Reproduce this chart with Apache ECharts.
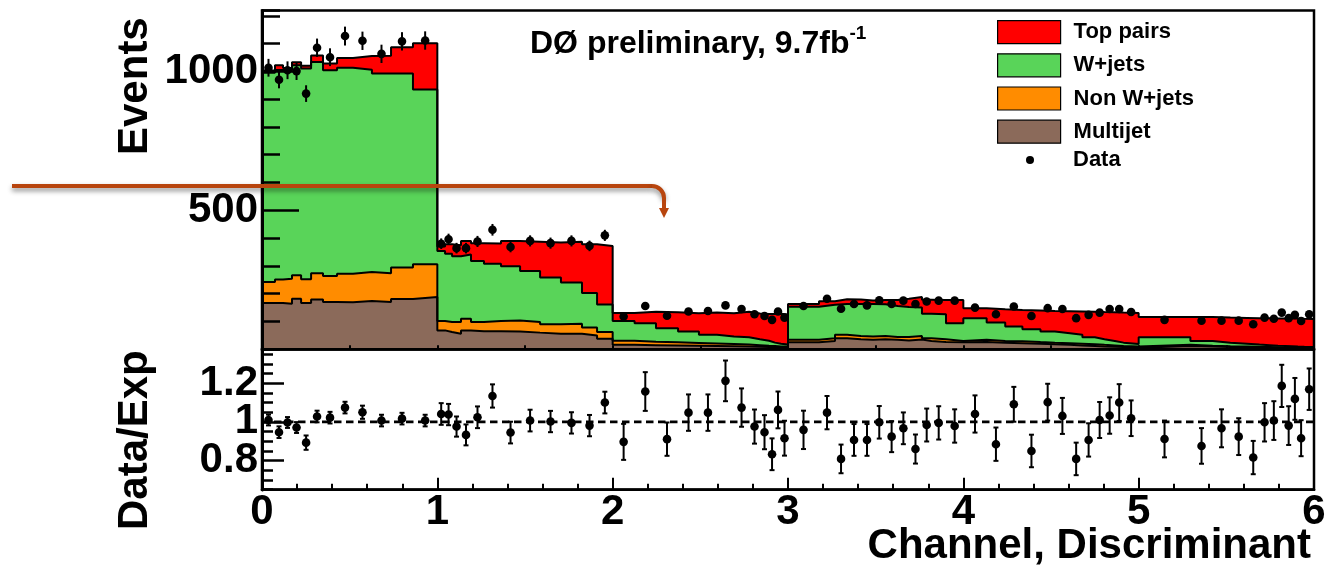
<!DOCTYPE html>
<html><head><meta charset="utf-8">
<script src="https://cdn.jsdelivr.net/npm/echarts@6/dist/echarts.min.js"></script>
<style>html,body{margin:0;padding:0;background:#fff}#c{width:1330px;height:568px}</style>
</head><body><div id="c"></div>
<script>
// ---- DATA ----
const binEdges = [
  0, 0.074, 0.120, 0.171, 0.223, 0.280, 0.348, 0.428, 0.519, 0.627, 0.736, 0.861,
  1, 1.044, 1.084, 1.135, 1.192, 1.266, 1.363, 1.472, 1.586, 1.705, 1.825, 1.911,
  2, 2.125, 2.247, 2.373, 2.492, 2.595, 2.692, 2.778, 2.840, 2.892, 2.926, 2.960,
  3, 3.177, 3.268, 3.337, 3.416, 3.485, 3.556, 3.626, 3.690, 3.764, 3.818, 3.901,
  4, 4.133, 4.239, 4.337, 4.440, 4.522, 4.608, 4.679, 4.750, 4.805, 4.864, 4.914,
  5, 5.295, 5.422, 5.523, 5.618, 5.689, 5.747, 5.795, 5.837, 5.874, 5.908, 5.945, 6
];
const multijet = [
  167, 167, 164, 182, 167, 179, 170, 169, 174, 170, 181, 188,
  68, 62, 56, 68, 65, 65, 64, 60, 56, 56, 50, 38,
  16, 15, 14, 13, 12, 11, 10, 9, 8, 7, 6, 6,
  25, 30, 40, 36, 34, 36, 34, 32, 35, 30, 26, 25,
  26, 24, 22, 20, 18, 16, 14, 12, 10, 9, 8, 6,
  12, 10, 8, 7, 6, 5, 5, 4, 4, 3, 3, 3
];
const nonWjets = [
  75, 84, 90, 84, 85, 95, 94, 103, 104, 104, 113, 118,
  34, 36, 42, 42, 33, 37, 40, 38, 34, 36, 28, 24,
  15, 12, 11, 10, 9, 8, 7, 6, 5, 5, 4, 4,
  9, 10, 12, 12, 12, 12, 10, 12, 13, 10, 10, 5,
  8, 6, 7, 6, 6, 6, 6, 6, 6, 5, 4, 4,
  4, 3, 3, 3, 3, 3, 2, 2, 2, 2, 2, 1
];
const wJets = [
  753, 754, 751, 756, 758, 760, 740, 741, 728, 718, 698, 629,
  252, 246, 237, 231, 220, 206, 195, 184, 168, 148, 125, 99,
  71, 67, 51, 41, 31, 27, 26, 21, 18, 12, 10, 7,
  119, 120, 111, 115, 117, 114, 112, 108, 102, 88, 90, 64,
  78, 66, 53, 46, 40, 36, 32, 25, 20, 16, 12, 9,
  27, 17, 13, 10, 8, 7, 6, 6, 5, 5, 4, 4
];
const topPairs = [
  8, 17, 7, 11, 10, 23, 24, 35, 49, 64, 95, 166,
  16, 34, 39, 49, 64, 73, 91, 105, 126, 147, 175, 211,
  29, 41, 57, 66, 80, 84, 92, 93, 96, 103, 108, 108,
  10, 13, 17, 16, 13, 15, 21, 30, 38, 50, 51, 83,
  36, 48, 59, 68, 74, 79, 84, 92, 98, 103, 108, 112,
  73, 86, 90, 93, 95, 97, 98, 99, 100, 101, 101, 101
];
const dataCounts = [
  1013, 970, 1004, 1001, 920, 1085, 1051, 1127, 1110, 1063, 1108, 1111,
  380, 396, 364, 364, 388, 430, 368, 390, 382, 390, 372, 410,
  118, 156, 121, 136, 138, 158, 145, 126, 120, 106, 136, 114,
  156, 182, 146, 163, 158, 176, 163, 175, 163, 172, 175, 175,
  150, 126, 154, 120, 148, 145, 112, 124, 132, 145, 145, 134,
  106, 103, 103, 103, 90, 114, 110, 132, 112, 124, 102, 126
];
const dataErrors = [
  32, 31, 32, 32, 30, 33, 32, 34, 33, 33, 33, 33,
  19, 20, 19, 19, 20, 21, 19, 20, 20, 20, 19, 20,
  11, 12, 11, 12, 12, 13, 12, 11, 11, 10, 12, 11,
  12, 13, 12, 13, 13, 13, 13, 13, 13, 13, 13, 13,
  12, 11, 12, 11, 12, 12, 11, 11, 11, 12, 12, 12,
  10, 10, 10, 10, 9, 11, 10, 11, 11, 11, 10, 11
];
const ratioValues = [
  1.010, 0.947, 0.997, 0.971, 0.893, 1.028, 1.022, 1.074, 1.050, 1.007, 1.017, 1.007,
  1.041, 1.038, 0.976, 0.933, 1.024, 1.134, 0.945, 1.007, 1.002, 0.995, 0.981, 1.100,
  0.897, 1.157, 0.911, 1.048, 1.048, 1.212, 1.074, 0.976, 0.947, 0.833, 1.062, 0.916,
  0.959, 1.048, 0.809, 0.907, 0.907, 0.998, 0.924, 0.967, 0.860, 0.984, 0.995, 0.979,
  1.041, 0.885, 1.091, 0.850, 1.102, 1.031, 0.809, 0.907, 1.010, 1.033, 1.100, 1.019,
  0.912, 0.876, 0.967, 0.924, 0.816, 0.998, 1.007, 1.186, 0.981, 1.119, 0.916, 1.169
];
const ratioErrors = [
  0.028, 0.030, 0.028, 0.028, 0.037, 0.030, 0.030, 0.030, 0.034, 0.030, 0.030, 0.030,
  0.056, 0.055, 0.052, 0.054, 0.056, 0.060, 0.056, 0.056, 0.055, 0.055, 0.055, 0.056,
  0.093, 0.100, 0.086, 0.094, 0.094, 0.105, 0.099, 0.088, 0.088, 0.082, 0.095, 0.090,
  0.099, 0.086, 0.074, 0.082, 0.082, 0.084, 0.080, 0.082, 0.075, 0.085, 0.086, 0.086,
  0.096, 0.086, 0.090, 0.084, 0.095, 0.093, 0.084, 0.086, 0.093, 0.094, 0.095, 0.092,
  0.095, 0.092, 0.098, 0.095, 0.086, 0.099, 0.100, 0.109, 0.100, 0.108, 0.093, 0.107
];
const xTickLabels = [0, 1, 2, 3, 4, 5, 6];
const eventsTickLabels = [500, 1000];
const ratioTickLabels = [0.8, 1, 1.2];
const legendNames = ['Top pairs', 'W+jets', 'Non W+jets', 'Multijet', 'Data'];

// ---- BUILD ----
const FONT = '"Liberation Sans", Arial, Helvetica, sans-serif';
const COLORS = { top: '#ff0000', w: '#59d459', nonw: '#ff8c00', mj: '#8b6a5a' };
const nb = multijet.length;
const cumMJ = multijet.slice();
const cumNonW = cumMJ.map((v, i) => v + nonWjets[i]);
const cumW = cumNonW.map((v, i) => v + wJets[i]);
const cumTop = cumW.map((v, i) => v + topPairs[i]);
const centers = binEdges.slice(0, nb).map((e, i) => (e + binEdges[i + 1]) / 2);
function stepData(vals) {
  const d = vals.map((v, i) => [binEdges[i], v]);
  d.push([binEdges[nb], vals[nb - 1]]);
  return d;
}
function histSeries(name, vals, color) {
  return {
    name, type: 'line', xAxisIndex: 0, yAxisIndex: 0, step: 'end', data: stepData(vals),
    showSymbol: false, symbol: 'none', silent: true,
    itemStyle: { color },
    lineStyle: { color: '#000', width: 2 },
    areaStyle: { color, opacity: 1 }
  };
}
const dataPts = centers.map((c, i) => [c, dataCounts[i], dataErrors[i]]);
const ratioPts = centers.map((c, i) => [c, ratioValues[i], ratioErrors[i]]);

const GRID_L = 262, GRID_W = 1052;
const TOP_T = 10.5, TOP_B = 349.3, BOT_B = 489.7;
const R_MIN = 0.65, R_MAX = 1.375;

const chart = echarts.init(document.getElementById('c'), null, { renderer: 'canvas' });
const axisLabelStyle = { color: '#000', fontFamily: FONT, fontWeight: 'bold', fontSize: 42 };
const fmt = v => String(Math.round(v * 1000) / 1000);

// one left axis per ratio tick label so that no label is auto-hidden
const ratioLabelAxes = ratioTickLabels.map(v => ({
  type: 'value', gridIndex: 1, position: 'left', offset: 0, min: R_MIN, max: R_MAX,
  axisLine: { show: true, lineStyle: { color: '#000', width: 3 } },
  axisTick: { show: true, inside: true, length: 22, lineStyle: { color: '#000', width: 2.5 }, customValues: [v] },
  axisLabel: { show: true, margin: 4, ...axisLabelStyle, customValues: [v], formatter: fmt },
  splitLine: { show: false }, z: 10
}));

chart.setOption({
  animation: false,
  backgroundColor: '#fff',
  grid: [
    { left: GRID_L, width: GRID_W, top: TOP_T, height: TOP_B - TOP_T, show: true, borderColor: '#000', borderWidth: 2.5, backgroundColor: 'transparent', z: 10 },
    { left: GRID_L, width: GRID_W, top: TOP_B, height: BOT_B - TOP_B, show: true, borderColor: '#000', borderWidth: 2.5, backgroundColor: 'transparent', z: 10 }
  ],
  xAxis: [
    { type: 'value', gridIndex: 0, min: 0, max: 6, interval: 0.5, axisLine: { show: true, lineStyle: { color: '#000', width: 2.5 } },
      axisTick: { show: true, inside: true, length: 4, lineStyle: { color: '#000', width: 2 } }, axisLabel: { show: false }, splitLine: { show: false }, z: 10 },
    { type: 'value', gridIndex: 1, min: 0, max: 6, interval: 1, axisLine: { show: true, lineStyle: { color: '#000', width: 2.5 } },
      axisTick: { show: true, inside: true, length: 12, lineStyle: { color: '#000', width: 2 } },
      minorTick: { show: true, splitNumber: 5, length: 6, lineStyle: { color: '#000', width: 2 } },
      axisLabel: { show: true, margin: 2, ...axisLabelStyle, customValues: xTickLabels, formatter: fmt },
      splitLine: { show: false }, z: 10 }
  ],
  yAxis: [
    { type: 'value', gridIndex: 0, position: 'left', min: 0, max: 1219, axisLine: { show: true, lineStyle: { color: '#000', width: 3 } },
      axisTick: { show: true, inside: true, length: 37, lineStyle: { color: '#000', width: 2.5 }, customValues: eventsTickLabels },
      axisLabel: { show: true, margin: 4, ...axisLabelStyle, customValues: eventsTickLabels, formatter: fmt },
      splitLine: { show: false }, z: 10 },
    { type: 'value', gridIndex: 0, position: 'left', offset: 0, min: 0, max: 1219, interval: 100, axisLine: { show: false },
      axisTick: { show: true, inside: true, length: 18, lineStyle: { color: '#000', width: 2.5 } },
      axisLabel: { show: false }, splitLine: { show: false }, z: 10 },
    ratioLabelAxes[1],
    { type: 'value', gridIndex: 1, position: 'left', offset: 0, min: R_MIN, max: R_MAX, interval: 0.05, axisLine: { show: false },
      axisTick: { show: true, inside: true, length: 11, lineStyle: { color: '#000', width: 2.5 } },
      axisLabel: { show: false }, splitLine: { show: false }, z: 10 },
    ratioLabelAxes[0],
    ratioLabelAxes[2]
  ],
  legend: [
    { data: legendNames.slice(0, 4).map((n, i) => ({ name: n, itemStyle: { color: [COLORS.top, COLORS.w, COLORS.nonw, COLORS.mj][i], borderColor: '#000', borderWidth: 1.2 } })),
      orient: 'vertical', left: 992, top: 15, itemWidth: 63, itemHeight: 23, itemGap: 9, icon: 'rect',
      selectedMode: false, textStyle: { color: '#000', fontFamily: FONT, fontWeight: 'bold', fontSize: 22, padding: [0, 0, 0, 8] } },
    { data: [{ name: legendNames[4], itemStyle: { color: '#000' } }], orient: 'vertical', left: 1021, top: 144, itemWidth: 8, itemHeight: 8, icon: 'circle',
      selectedMode: false, textStyle: { color: '#000', fontFamily: FONT, fontWeight: 'bold', fontSize: 22, padding: [0, 0, 0, 34] } }
  ],
  series: [
    histSeries('Top pairs', cumTop, COLORS.top),
    histSeries('W+jets', cumW, COLORS.w),
    histSeries('Non W+jets', cumNonW, COLORS.nonw),
    histSeries('Multijet', cumMJ, COLORS.mj),
    {
      name: 'Data', type: 'custom', xAxisIndex: 0, yAxisIndex: 0, data: dataPts, itemStyle: { color: '#000' }, silent: true, z: 5,
      renderItem(params, api) {
        const x = api.value(0), y = api.value(1), e = api.value(2);
        const p = api.coord([x, y]), a = api.coord([x, y + e]), b = api.coord([x, y - e]);
        return { type: 'group', children: [
          { type: 'line', shape: { x1: p[0], y1: a[1], x2: p[0], y2: b[1] }, style: { stroke: '#000', lineWidth: 2 } },
          { type: 'circle', shape: { cx: p[0], cy: p[1], r: 4.3 }, style: { fill: '#000' } }
        ] };
      }
    },
    {
      name: 'unity', type: 'line', xAxisIndex: 1, yAxisIndex: 2, data: [[0, 1], [6, 1]], showSymbol: false, symbol: 'none', silent: true,
      lineStyle: { color: '#000', width: 2.8, type: [7.5, 4.5] }, z: 3
    },
    {
      name: 'ratio', type: 'custom', xAxisIndex: 1, yAxisIndex: 2, data: ratioPts, silent: true, z: 5,
      renderItem(params, api) {
        const x = api.value(0), y = api.value(1), e = api.value(2);
        const p = api.coord([x, y]), a = api.coord([x, y + e]), b = api.coord([x, y - e]);
        const s = { stroke: '#000', lineWidth: 2 };
        return { type: 'group', children: [
          { type: 'line', shape: { x1: p[0], y1: a[1], x2: p[0], y2: b[1] }, style: s },
          { type: 'line', shape: { x1: p[0] - 2.5, y1: a[1], x2: p[0] + 2.5, y2: a[1] }, style: s },
          { type: 'line', shape: { x1: p[0] - 2.5, y1: b[1], x2: p[0] + 2.5, y2: b[1] }, style: s },
          { type: 'circle', shape: { cx: p[0], cy: p[1], r: 4.3 }, style: { fill: '#000' } }
        ] };
      }
    }
  ],
  graphic: [
    { type: 'text', x: 135, y: 155, rotation: Math.PI / 2, z: 20,
      style: { text: 'Events', font: 'bold 42px ' + FONT, fill: '#000', align: 'left', verticalAlign: 'middle' } },
    { type: 'text', x: 135, y: 530, rotation: Math.PI / 2, z: 20,
      style: { text: 'Data/Exp', font: 'bold 42px ' + FONT, fill: '#000', align: 'left', verticalAlign: 'middle' } },
    { type: 'text', x: 1311, y: 546, z: 20,
      style: { text: 'Channel, Discriminant', font: 'bold 42px ' + FONT, fill: '#000', align: 'right', verticalAlign: 'middle' } },
    { type: 'text', x: 530, y: 42, z: 20,
      style: { text: '{a|DØ preliminary, 9.7fb}{s|-1}', align: 'left', verticalAlign: 'middle',
        rich: { a: { font: 'bold 32px ' + FONT, fill: '#000', lineHeight: 36, verticalAlign: 'bottom' },
                s: { font: 'bold 19px ' + FONT, fill: '#000', lineHeight: 36, verticalAlign: 'top' } } } },
    { type: 'line', z: 30, silent: true, shape: { x1: 12, y1: 186, x2: 652, y2: 186 },
      style: { stroke: '#b8450e', lineWidth: 4, shadowBlur: 5, shadowColor: 'rgba(0,0,0,0.45)', shadowOffsetY: 3 } },
    { type: 'arc', z: 30, silent: true, shape: { cx: 652, cy: 198, r: 12, startAngle: -Math.PI / 2, endAngle: 0, clockwise: true },
      style: { fill: 'none', stroke: '#b8450e', lineWidth: 4, shadowBlur: 5, shadowColor: 'rgba(0,0,0,0.45)', shadowOffsetY: 3 } },
    { type: 'line', z: 30, silent: true, shape: { x1: 664, y1: 198, x2: 664, y2: 209 },
      style: { stroke: '#b8450e', lineWidth: 4 } },
    { type: 'polygon', z: 30, silent: true,
      shape: { points: [[659, 208], [669, 208], [664, 218]] },
      style: { fill: '#b8450e' } }
  ]
});
</script></body></html>
